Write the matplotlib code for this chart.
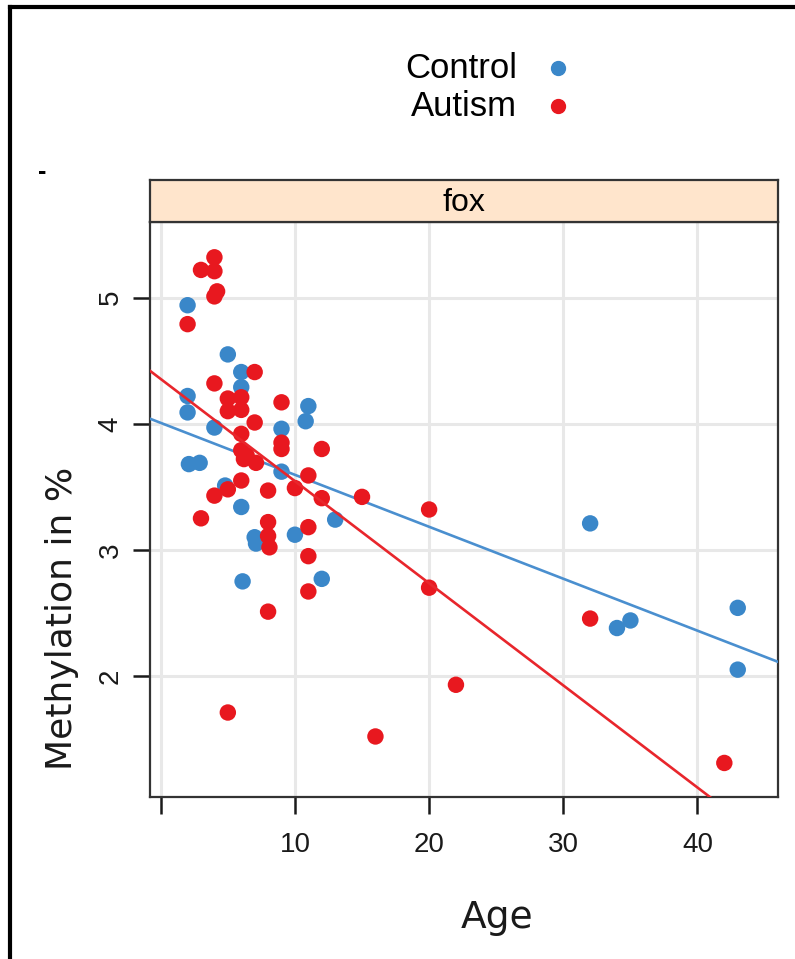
import numpy as np
import matplotlib
matplotlib.use("Agg")
import matplotlib.pyplot as plt
from matplotlib.lines import Line2D

# values
ctrl_age = [2, 5, 6, 6, 2, 2, 4, 11, 10.8, 9, 2.1, 2.9, 9, 4.8, 6, 13,
            7, 7.1, 10, 6.1, 12, 32, 34, 35, 43, 43]
ctrl_meth = [4.94, 4.55, 4.41, 4.29, 4.22, 4.09, 3.97, 4.14, 4.02, 3.96, 3.68, 3.69,
             3.62, 3.51, 3.34, 3.24, 3.10, 3.05, 3.12, 2.75, 2.77, 3.21, 2.38, 2.44,
             2.54, 2.05]

aut_age = [3, 4, 4, 4.2, 4, 2, 7, 4, 5, 6, 5, 6, 9, 7, 6, 9, 9, 12, 6, 6.4,
           6.2, 7.1, 11, 6, 5, 4, 8, 10, 12, 15, 3, 8, 11, 8, 8.1, 11, 11, 8,
           5, 20, 20, 32, 22, 16, 42]
aut_meth = [5.22, 5.32, 5.21, 5.05, 5.01, 4.79, 4.41, 4.32, 4.20, 4.21, 4.10, 4.11,
            4.17, 4.01, 3.92, 3.85, 3.80, 3.80, 3.79, 3.75, 3.72, 3.69, 3.59, 3.55,
            3.48, 3.43, 3.47, 3.49, 3.41, 3.42, 3.25, 3.22, 3.18, 3.11, 3.02, 2.95,
            2.67, 2.51, 1.71, 3.32, 2.70, 2.455, 1.93, 1.52, 1.31]

# fitted lines (intercept, slope) as drawn in the picture
ctrl_fit = (4.007, -0.0412)
aut_fit = (4.355, -0.081)

groups = ["Control", "Autism"]
xticks = [0, 10, 20, 30, 40]
xtick_labels = ["", "10", "20", "30", "40"]
yticks = [2, 3, 4, 5]
panel_name = "fox"

blue = "#3a87c9"
red = "#e8181f"
W, H = 795, 959

fig = plt.figure(figsize=(7.95, 9.59), dpi=100)
plt.rcParams['font.family'] = ['Liberation Sans', 'DejaVu Sans']

ax = fig.add_axes([150 / W, 1 - 797 / H, 628 / W, 575 / H])
ax.set_xlim(-0.8, 46.0)
ax.set_ylim(1.04, 5.6)
ax.grid(True, color="#e8e8e8", linewidth=2.2)
ax.set_axisbelow(True)

xs = np.array(ax.get_xlim())
ax.scatter(ctrl_age, ctrl_meth, s=140, color=blue, edgecolors="none", zorder=2)
ax.plot(xs, ctrl_fit[0] + ctrl_fit[1] * xs, color="#4a8fcf", lw=1.9, zorder=3)
ax.scatter(aut_age, aut_meth, s=140, color=red, edgecolors="none", zorder=4)
ax.plot(xs, aut_fit[0] + aut_fit[1] * xs, color="#e8262c", lw=1.9, zorder=5)

ax.set_xticks(xticks)
ax.set_xticklabels(xtick_labels)
ax.set_yticks(yticks)
ax.set_yticklabels([str(v) for v in yticks], rotation=90, va="center")
ax.tick_params(axis="both", direction="out", length=12, width=1.8,
               labelsize=20, colors="#1a1a1a", top=False, right=False)
ax.tick_params(axis="x", pad=13)
ax.tick_params(axis="y", pad=7)
for sp in ax.spines.values():
    sp.set_color("#333333")
    sp.set_linewidth(1.6)

# strip on top of the panel
sx = fig.add_axes([150 / W, 1 - 222 / H, 628 / W, 42 / H])
sx.set_facecolor("#ffe5cc")
sx.set_xticks([])
sx.set_yticks([])
for sp in sx.spines.values():
    sp.set_color("#333333")
    sp.set_linewidth(1.6)
sx.text(0.5, 0.45, panel_name, ha="center", va="center", fontsize=23,
        transform=sx.transAxes)

# axis titles
fig.text(497 / W, 1 - 918 / H, "Age", ha="center", va="center", fontsize=27,
         family="DejaVu Sans", color="#1a1a1a")
fig.text(62 / W, 1 - 618 / H, "Methylation in %", ha="center", va="center",
         rotation=90, fontsize=26, family="DejaVu Sans", color="#1a1a1a")

# legend
for i, (g, c) in enumerate(zip(groups, [blue, red])):
    yy = 1 - (68 + 38 * i) / H
    fig.text(517 / W, yy, g, ha="right", va="center", fontsize=25)
    fig.add_artist(Line2D([558 / W], [yy], marker="o", markersize=10, color=c,
                          transform=fig.transFigure))

# stray mark and outer frame
fig.text(42 / W, 1 - 172 / H, "-", ha="center", va="center", fontsize=18,
         weight="bold")
fig.add_artist(Line2D([10 / W, 10 / W], [0, 1 - 7 / H], color="black", lw=3,
                      transform=fig.transFigure))
fig.add_artist(Line2D([10 / W, 1], [1 - 7 / H, 1 - 7 / H], color="black", lw=3,
                      transform=fig.transFigure))

fig.savefig("out.png", dpi=100)
